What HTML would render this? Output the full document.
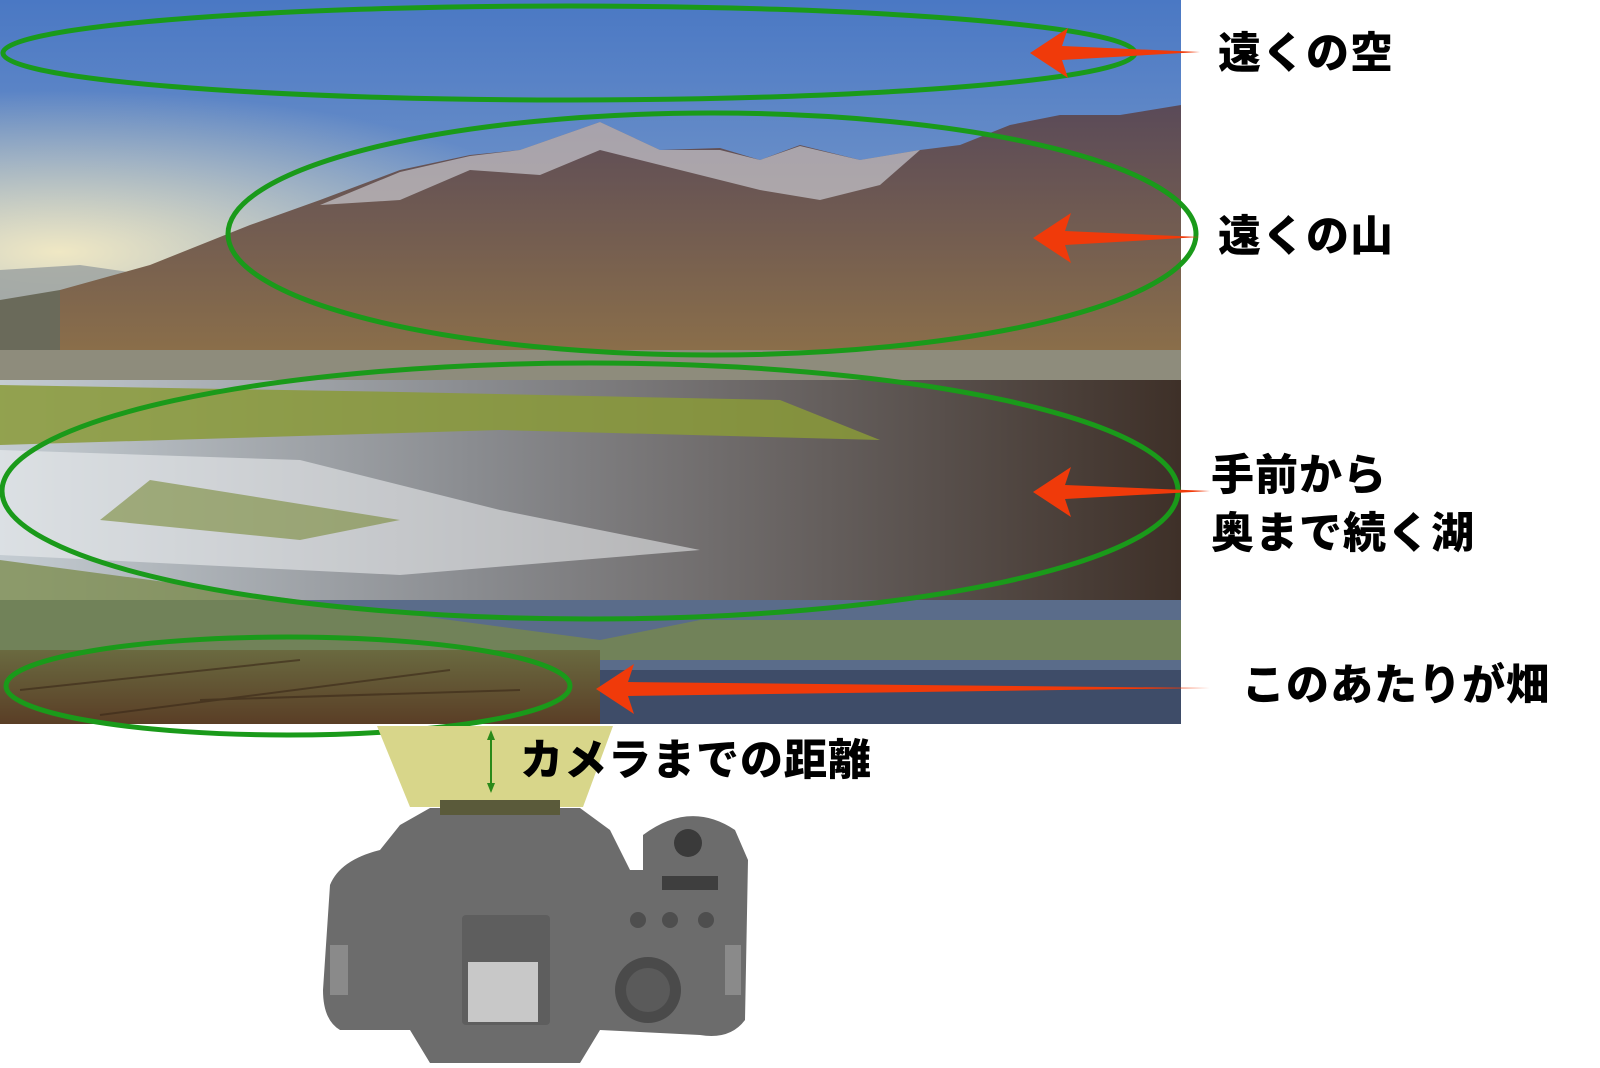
<!DOCTYPE html>
<html><head><meta charset="utf-8"><style>
html,body{margin:0;padding:0;background:#fff;width:1600px;height:1068px;overflow:hidden}
.t{position:absolute;font-family:"Liberation Sans","Noto Sans CJK JP",sans-serif;font-weight:900;font-size:43px;color:#000;white-space:nowrap;line-height:1;letter-spacing:1px}
</style></head><body>
<svg width="1600" height="1068" style="position:absolute;left:0;top:0">
<defs>
<linearGradient id="sky" x1="0" y1="0" x2="0" y2="1">
<stop offset="0" stop-color="#4a78c4"/><stop offset="0.5" stop-color="#8aa6cc"/><stop offset="1" stop-color="#d8dad2"/></linearGradient>
<radialGradient id="sun" cx="0.05" cy="0.7" r="0.45"><stop offset="0" stop-color="#f6ecc4" stop-opacity="0.95"/><stop offset="1" stop-color="#f4e8b8" stop-opacity="0"/></radialGradient>
<linearGradient id="mt" x1="0" y1="0" x2="0" y2="1"><stop offset="0" stop-color="#5a4a58"/><stop offset="1" stop-color="#8a6e4a"/></linearGradient>
<linearGradient id="lake" x1="0" y1="0" x2="1" y2="0"><stop offset="0" stop-color="#c4ccd2"/><stop offset="0.4" stop-color="#8a8c90"/><stop offset="1" stop-color="#3e3028"/></linearGradient>
<linearGradient id="fld" x1="0" y1="0" x2="0" y2="1"><stop offset="0" stop-color="#6a6a40"/><stop offset="1" stop-color="#5a3e26"/></linearGradient>
</defs>
<rect x="0" y="0" width="1181" height="724" fill="url(#sky)"/>
<rect x="0" y="0" width="1181" height="360" fill="url(#sun)"/>
<polygon points="0,270 80,265 150,275 200,290 200,350 0,350" fill="#9aa0a0" opacity="0.8"/>
<polygon points="0,300 60,290 150,300 200,330 200,355 0,355" fill="#6a6a5a"/>
<polygon points="60,290 150,265 250,225 320,200 400,170 470,155 520,150 600,122 660,150 720,148 760,160 800,145 860,160 920,150 960,145 1010,125 1060,115 1120,115 1181,105 1181,350 60,350" fill="url(#mt)"/>
<polygon points="320,205 400,172 470,156 520,150 600,122 660,150 720,150 760,160 800,146 860,160 920,150 880,185 820,200 760,190 700,175 600,150 540,175 470,170 400,200" fill="#d8dce4" opacity="0.6"/>
<rect x="0" y="350" width="1181" height="30" fill="#8e8c7c"/>
<rect x="0" y="380" width="1181" height="250" fill="url(#lake)"/>
<polygon points="0,385 400,392 780,400 880,440 500,430 0,445" fill="#8a9a38" opacity="0.85"/>
<polygon points="0,450 300,460 500,510 700,550 400,575 0,555" fill="#eef0f2" opacity="0.55"/>
<polygon points="150,480 400,520 300,540 100,520" fill="#7a8a38" opacity="0.6"/>
<rect x="0" y="600" width="1181" height="70" fill="#5a6c8a"/>
<polygon points="0,560 300,600 600,640 700,620 1181,620 1181,660 0,660" fill="#7a8a48" opacity="0.75"/>
<rect x="0" y="650" width="600" height="74" fill="url(#fld)"/>
<g stroke="#3a2818" stroke-width="2" opacity="0.6"><line x1="20" y1="690" x2="300" y2="660"/><line x1="100" y1="715" x2="450" y2="670"/><line x1="200" y1="700" x2="520" y2="690"/></g>
<rect x="600" y="670" width="581" height="54" fill="#3e4c68"/>
<g fill="none" stroke="#1a9a1a" stroke-width="5">
<ellipse cx="569" cy="53" rx="566" ry="47"/>
<ellipse cx="712" cy="234" rx="484" ry="121"/>
<ellipse cx="590" cy="491" rx="588" ry="128"/>
<ellipse cx="288" cy="686" rx="282" ry="49"/>
</g>
<g fill="#f03a0a">
<polygon points="1030,53 1068,28 1062,46 1200,52 1062,60 1068,78"/>
<polygon points="1033,238 1071,213 1065,231 1200,237 1065,245 1071,263"/>
<polygon points="1033,492 1071,467 1065,485 1210,491 1065,499 1071,517"/>
<polygon points="596,689 634,664 628,682 1210,688 628,696 634,714"/>
</g>
<polygon points="377,726 613,726 583,807 410,807" fill="#d8d68a"/>
<line x1="491" y1="733" x2="491" y2="790" stroke="#2a8a1a" stroke-width="2"/>
<polygon points="487,740 491,730 495,740" fill="#2a8a1a"/><polygon points="487,783 491,793 495,783" fill="#2a8a1a"/>
<g fill="#6c6c6c">
<path d="M330,885 Q340,860 380,850 L400,825 L430,808 L580,808 L610,830 L630,870 L643,870 L643,835 Q690,800 735,830 L748,860 L745,1020 Q730,1040 700,1035 L600,1030 L580,1063 L430,1063 L410,1030 L340,1030 Q323,1020 323,990 Z"/>
</g>
<rect x="440" y="800" width="120" height="15" fill="#5a5a3a"/>
<rect x="462" y="915" width="88" height="110" rx="4" fill="#5e5e5e"/>
<rect x="468" y="962" width="70" height="60" fill="#c8c8c8"/>
<circle cx="648" cy="990" r="33" fill="#4a4a4a"/><circle cx="648" cy="990" r="22" fill="#5a5a5a"/>
<circle cx="688" cy="843" r="14" fill="#3a3a3a"/>
<rect x="662" y="876" width="56" height="14" fill="#3e3e3e"/>
<circle cx="638" cy="920" r="8" fill="#4e4e4e"/><circle cx="670" cy="920" r="8" fill="#4e4e4e"/><circle cx="706" cy="920" r="8" fill="#4e4e4e"/>
<rect x="330" y="945" width="18" height="50" fill="#8a8a8a"/><rect x="725" y="945" width="16" height="50" fill="#8a8a8a"/>
</svg>
<div class="t" style="left:1218px;top:33px">遠くの空</div>
<div class="t" style="left:1218px;top:216px">遠くの山</div>
<div class="t" style="left:1211px;top:455px">手前から</div>
<div class="t" style="left:1211px;top:513px">奥まで続く湖</div>
<div class="t" style="left:1242px;top:665px">このあたりが畑</div>
<div class="t" style="left:520px;top:740px">カメラまでの距離</div>
</body></html>
